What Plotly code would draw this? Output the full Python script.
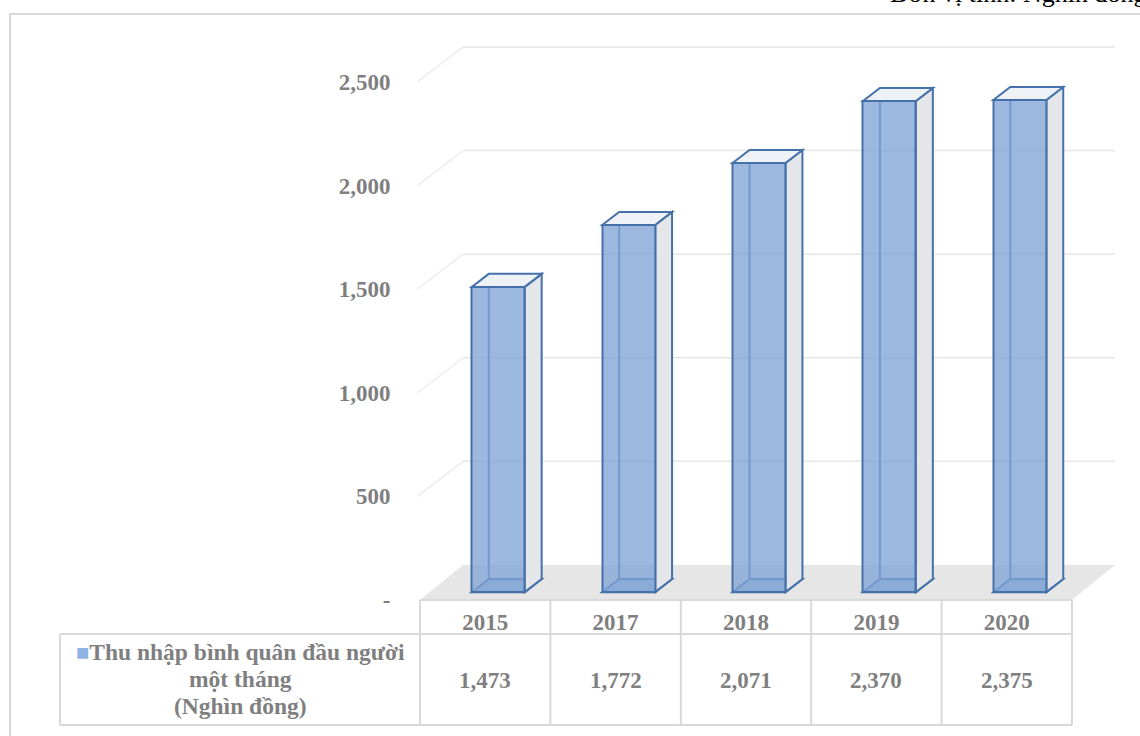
import plotly.graph_objects as go

# ---- data -------------------------------------------------------------
years = ["2015", "2017", "2018", "2019", "2020"]
income = [1473, 1772, 2071, 2370, 2375]
y_ticks = [0, 500, 1000, 1500, 2000, 2500]
y_tick_text = ["-", "500", "1,000", "1,500", "2,000", "2,500"]
series_lines = ["Thu nhập bình quân đầu người", "một tháng", "(Nghìn đồng)"]
unit_note = "Đơn vị tính: Nghìn đồng"

# ---- geometry / style ---------------------------------------------------
W, H = 1140, 736
FONT = "Liberation Serif, Times New Roman, serif"
GREY = "#7f7f7f"
TABLE_LINE = "#d9d9d9"
BAR_LINE = "#4571aa"

BAR_W = 0.406                    # bar width in category units
FRONT_DX, FRONT_DY = 0.10, 38    # bar front plane relative to floor front edge
BAR_DX, BAR_DY = 0.13, 63        # oblique depth of a bar
FLOOR_DX, FLOOR_DY = 0.33, 169   # oblique depth of floor / back wall
X_RANGE = [-0.55, 4.83]
Y_RANGE = [0, 2799]


def py(px):
    """paper y from a pixel row measured from the top"""
    return 1 - px / H


def path(points):
    return "M " + " L ".join(f"{x},{y}" for x, y in points) + " Z"


n = len(years)
shapes = []

# floor of the 3D box
shapes.append(dict(
    type="path", xref="x", yref="y", layer="below",
    path=path([(-0.5, 0), (n - 0.5, 0),
               (n - 0.5 + FLOOR_DX, FLOOR_DY), (-0.5 + FLOOR_DX, FLOOR_DY)]),
    fillcolor="#e6e6e6", line=dict(width=0)))

# side-wall and back-wall gridlines
for v in y_ticks[1:]:
    shapes.append(dict(type="line", xref="x", yref="y", layer="below",
                       x0=-0.52, y0=v, x1=-0.5 + FLOOR_DX, y1=v + FLOOR_DY,
                       line=dict(color="#ededed", width=1.5)))
    shapes.append(dict(type="line", xref="x", yref="y", layer="below",
                       x0=-0.5 + FLOOR_DX, y0=v + FLOOR_DY,
                       x1=X_RANGE[1], y1=v + FLOOR_DY,
                       line=dict(color="#e6e6e6", width=1.5)))

# the hidden/side/top faces of each bar; the front face is the Bar trace
for i, v in enumerate(income):
    x0 = i + FRONT_DX - BAR_W / 2
    x1 = x0 + BAR_W
    y0 = FRONT_DY
    y1 = v + FRONT_DY
    bx0, bx1 = x0 + BAR_DX, x1 + BAR_DX
    by0, by1 = y0 + BAR_DY, y1 + BAR_DY
    edge = dict(color=BAR_LINE, width=2)
    # bottom face
    shapes.append(dict(type="path", xref="x", yref="y", layer="below",
                       path=path([(x0, y0), (x1, y0), (bx1, by0), (bx0, by0)]),
                       fillcolor="rgba(79,129,189,0.35)", line=edge))
    # back-left vertical edge
    shapes.append(dict(type="line", xref="x", yref="y", layer="below",
                       x0=bx0, y0=by0, x1=bx0, y1=by1, line=edge))
    # right side face
    shapes.append(dict(type="path", xref="x", yref="y", layer="below",
                       path=path([(x1, y0), (bx1, by0), (bx1, by1), (x1, y1)]),
                       fillcolor="#e4e6ea", line=edge))
    # top face
    shapes.append(dict(type="path", xref="x", yref="y", layer="below",
                       path=path([(x0, y1), (x1, y1), (bx1, by1), (bx0, by1)]),
                       fillcolor="#eef1f5", line=edge))

# data table grid under the plot
T_TOP, T_MID, T_BOT = 600, 634, 725
LEG_LEFT = 60
for k in range(n + 1):
    shapes.append(dict(type="line", xref="x", yref="paper",
                       x0=k - 0.5, x1=k - 0.5, y0=py(T_TOP), y1=py(T_BOT),
                       line=dict(color=TABLE_LINE, width=2)))
for row in (T_TOP, T_MID, T_BOT):
    shapes.append(dict(type="line", xref="x", yref="paper",
                       x0=-0.5, x1=n - 0.5, y0=py(row), y1=py(row),
                       line=dict(color=TABLE_LINE, width=2)))
for row in (T_MID, T_BOT):
    shapes.append(dict(type="line", xref="paper", yref="paper",
                       x0=LEG_LEFT / W, x1=420 / W, y0=py(row), y1=py(row),
                       line=dict(color=TABLE_LINE, width=2)))
shapes.append(dict(type="line", xref="paper", yref="paper",
                   x0=LEG_LEFT / W, x1=LEG_LEFT / W, y0=py(T_MID), y1=py(T_BOT),
                   line=dict(color=TABLE_LINE, width=2)))

# outer chart frame
shapes.append(dict(type="rect", xref="paper", yref="paper",
                   x0=10 / W, x1=1.05, y0=-0.05, y1=py(14),
                   line=dict(color="#d9d9d9", width=2), fillcolor="rgba(0,0,0,0)"))

fig = go.Figure()
fig.add_trace(go.Bar(
    x=[i + FRONT_DX for i in range(n)], y=income, base=FRONT_DY, width=BAR_W,
    marker=dict(color="rgba(128,164,214,0.78)", line=dict(color=BAR_LINE, width=2)),
    name=" ".join(series_lines), showlegend=False, hoverinfo="skip"))

annotations = []
# value row of the data table
for i, v in enumerate(income):
    annotations.append(dict(
        x=i, xref="x", y=py(680), yref="paper", xanchor="center", yanchor="middle",
        text=f"{v:,}", showarrow=False,
        font=dict(family=FONT, size=23, color=GREY, weight="bold")))

# series label cell (with its colour key on the first line)
for k, (line, row) in enumerate(zip(series_lines, (652, 679, 706))):
    txt = line
    if k == 0:
        txt = ('<span style="color:#8db3e2;font-size:22px">■</span>' + line)
    annotations.append(dict(
        x=240 / W, xref="paper", y=py(row), yref="paper",
        xanchor="center", yanchor="middle", showarrow=False, text=txt,
        font=dict(family=FONT, size=23.5, color=GREY, weight="bold")))

annotations.append(dict(
    x=888 / W, xref="paper", xanchor="left", y=py(-7), yref="paper",
    yanchor="middle", text=unit_note, showarrow=False,
    font=dict(family=FONT, size=26, color="#000000")))

fig.update_layout(
    width=W, height=H,
    margin=dict(l=0, r=0, t=0, b=0, pad=0, autoexpand=False),
    paper_bgcolor="white", plot_bgcolor="white",
    shapes=shapes, annotations=annotations,
    bargap=0, showlegend=False,
    xaxis=dict(domain=[413.5 / W, 1115 / W], range=X_RANGE, type="linear",
               tickvals=list(range(n)), ticktext=years, automargin=False,
               showgrid=False, zeroline=False, showline=False, ticks="",
               ticklabelstandoff=6,
               tickfont=dict(family=FONT, size=23, color=GREY, weight="bold")),
    yaxis=dict(domain=[py(600), py(20)], range=Y_RANGE, automargin=False,
               tickvals=y_ticks, ticktext=y_tick_text,
               showgrid=False, zeroline=False, showline=False, ticks="",
               ticklabelstandoff=22,
               tickfont=dict(family=FONT, size=23, color=GREY, weight="bold")),
)

fig.write_html("out.html")
